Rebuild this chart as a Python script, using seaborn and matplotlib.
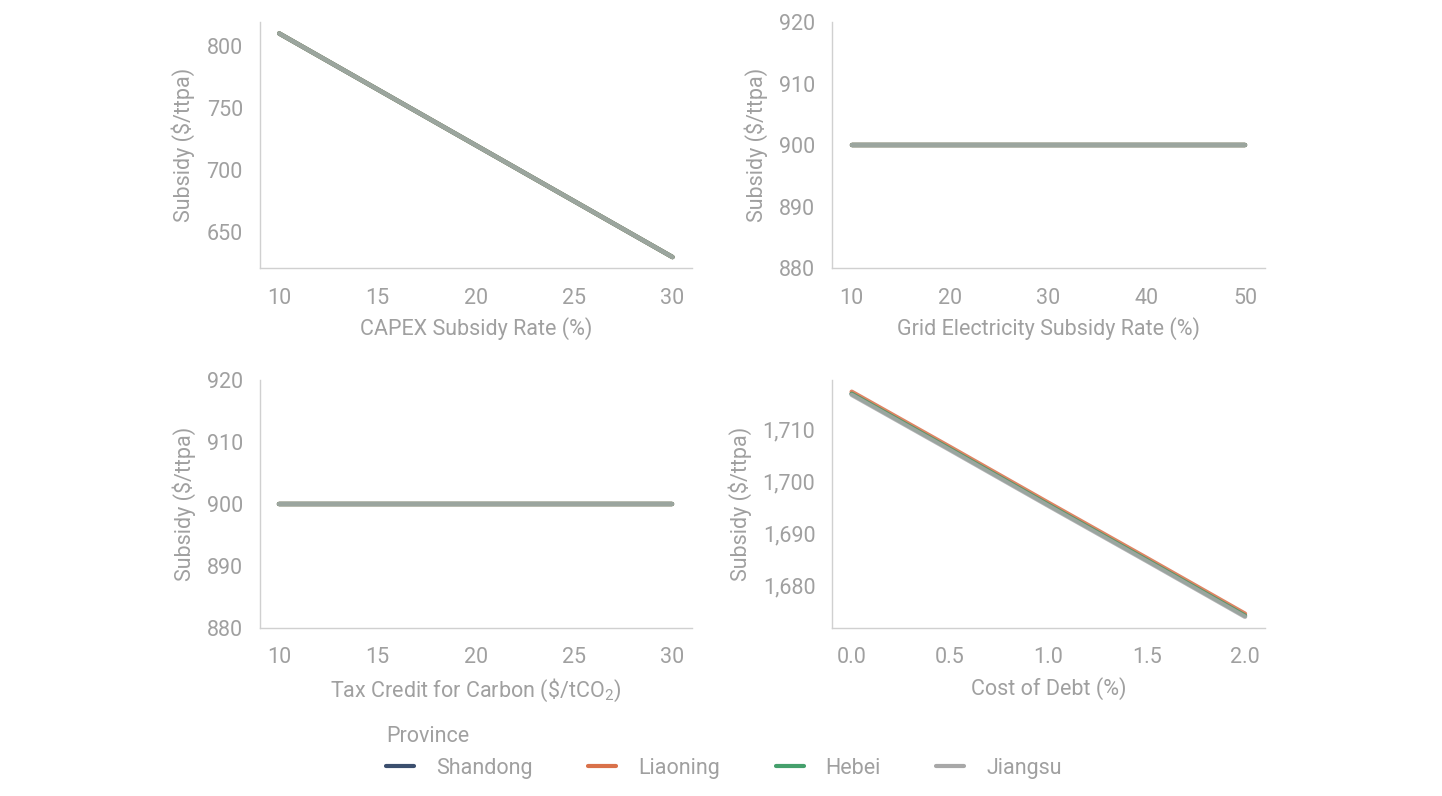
import pandas as pd
import matplotlib
matplotlib.use('Agg')
import matplotlib.pyplot as plt
from matplotlib.ticker import StrMethodFormatter
from matplotlib.lines import Line2D
import seaborn as sns

provinces = ['Shandong', 'Liaoning', 'Hebei', 'Jiangsu']
colors = ['#3b4f6e', '#d9714a', '#45a06c', '#a8a8a8']

capex_rate = [10, 15, 20, 25, 30]
capex_subsidy = {
    'Shandong': [810, 765, 720, 675, 630],
    'Liaoning': [810, 765, 720, 675, 630],
    'Hebei': [810, 765, 720, 675, 630],
    'Jiangsu': [810, 765, 720, 675, 630],
}

grid_rate = [10, 20, 30, 40, 50]
grid_subsidy = {
    'Shandong': [900, 900, 900, 900, 900],
    'Liaoning': [900, 900, 900, 900, 900],
    'Hebei': [900, 900, 900, 900, 900],
    'Jiangsu': [900, 900, 900, 900, 900],
}

tax_credit = [10, 15, 20, 25, 30]
tax_subsidy = {
    'Shandong': [900, 900, 900, 900, 900],
    'Liaoning': [900, 900, 900, 900, 900],
    'Hebei': [900, 900, 900, 900, 900],
    'Jiangsu': [900, 900, 900, 900, 900],
}

debt_cost = [0.0, 0.5, 1.0, 1.5, 2.0]
debt_subsidy = {
    'Shandong': [1716.8, 1706.2, 1695.5, 1684.9, 1674.2],
    'Liaoning': [1717.2, 1706.6, 1695.9, 1685.3, 1674.6],
    'Hebei': [1716.8, 1706.2, 1695.5, 1684.9, 1674.2],
    'Jiangsu': [1716.6, 1706.0, 1695.3, 1684.7, 1674.0],
}

TXT = '#a0a0a0'

sns.set_style('white')
plt.rcParams['font.family'] = ['Roboto', 'DejaVu Sans']
plt.rcParams['mathtext.fontset'] = 'custom'
plt.rcParams['mathtext.rm'] = 'Roboto'
plt.rcParams['mathtext.it'] = 'Roboto'


def to_frame(x, series):
    rows = []
    for p in provinces:
        for xv, yv in zip(x, series[p]):
            rows.append({'x': xv, 'y': yv, 'Province': p})
    return pd.DataFrame(rows)


panels = [
    (capex_rate, capex_subsidy, 'CAPEX Subsidy Rate (%)', [0.180, 0.663, 0.300, 0.309], None),
    (grid_rate, grid_subsidy, 'Grid Electricity Subsidy Rate (%)', [0.577, 0.663, 0.300, 0.309], (880, 920)),
    (tax_credit, tax_subsidy, r'Tax Credit for Carbon (\$/tCO$_2$)', [0.180, 0.211, 0.300, 0.311], (880, 920)),
    (debt_cost, debt_subsidy, 'Cost of Debt (%)', [0.577, 0.211, 0.300, 0.311], None),
]

fig = plt.figure(figsize=(14.42, 7.96), dpi=100)
for x, series, xlabel, pos, ylim in panels:
    ax = fig.add_axes(pos)
    df = to_frame(x, series)
    sns.lineplot(data=df, x='x', y='y', hue='Province', hue_order=provinces,
                 palette=colors, linewidth=3.2, alpha=0.85, legend=False, ax=ax)
    if ylim is not None:
        ax.set_ylim(*ylim)
        ax.set_yticks([880, 890, 900, 910, 920])
    ax.set_xlabel(xlabel, color=TXT, fontsize=15.5, labelpad=6)
    ax.set_ylabel('Subsidy ($/ttpa)', color=TXT, fontsize=15.5, labelpad=8)
    ax.tick_params(axis='x', length=0, labelsize=15.5, labelcolor=TXT, pad=14)
    ax.tick_params(axis='y', length=0, labelsize=15.5, labelcolor=TXT, pad=12)
    for s in ['top', 'right']:
        ax.spines[s].set_visible(False)
    for s in ['left', 'bottom']:
        ax.spines[s].set_color('#d0d0d0')
        ax.spines[s].set_linewidth(1)
    if xlabel.startswith('Cost'):
        ax.yaxis.set_major_formatter(StrMethodFormatter('{x:,.0f}'))
        ax.set_yticks([1680, 1690, 1700, 1710])
        ax.xaxis.set_major_formatter(StrMethodFormatter('{x:.1f}'))

handles = [Line2D([], [], color=c, linewidth=3) for c in colors]
leg = fig.legend(handles, provinces, title='Province', ncol=4, loc='upper left',
                 bbox_to_anchor=(0.262, 0.099), frameon=False, fontsize=15.5,
                 title_fontsize=15.5, handlelength=1.3, columnspacing=2.6,
                 handletextpad=1.0, alignment='left', borderaxespad=0)
leg.get_title().set_color(TXT)
for t in leg.get_texts():
    t.set_color(TXT)

fig.savefig('out.png', dpi=100)
